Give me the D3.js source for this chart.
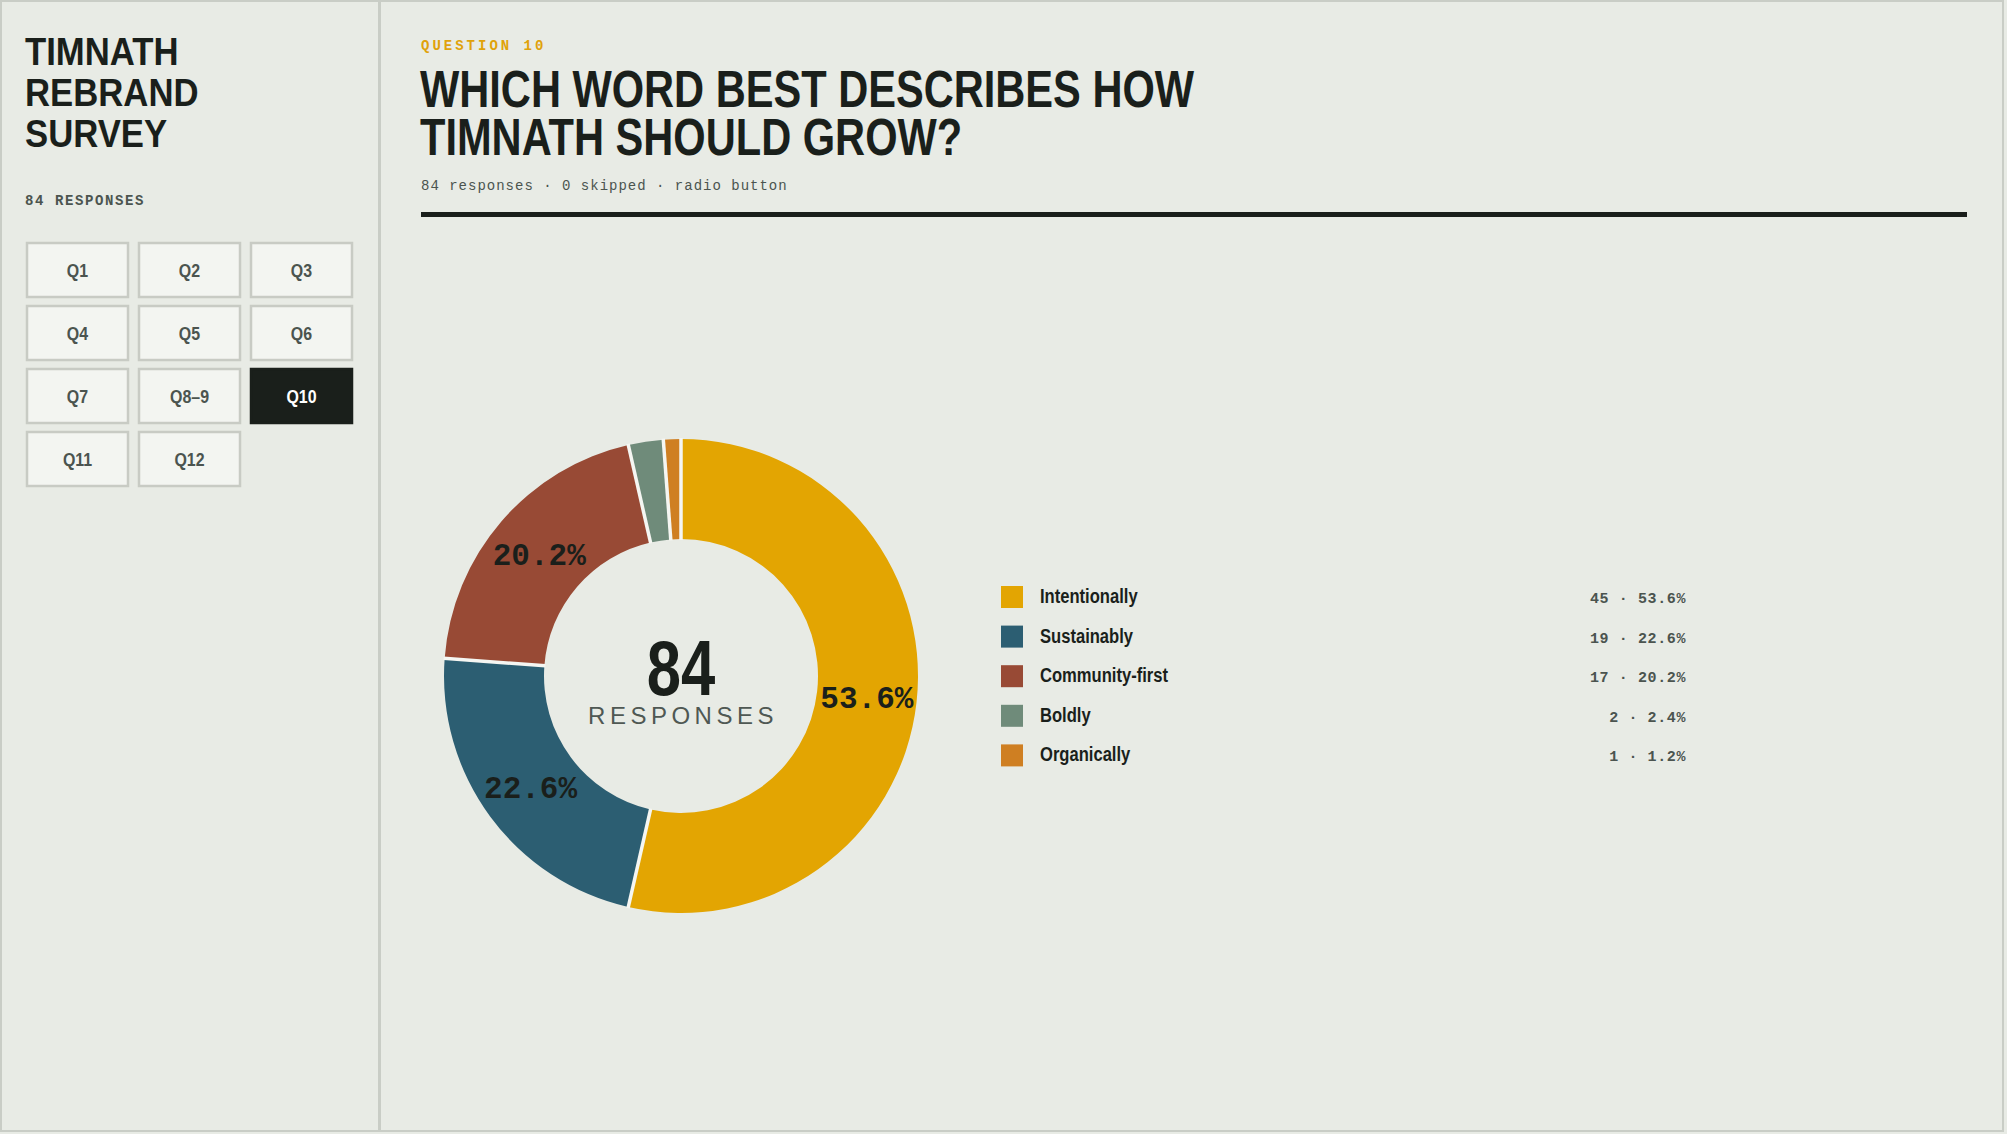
<!DOCTYPE html>
<html>
<head>
<meta charset="utf-8">
<script src="https://cdn.jsdelivr.net/npm/d3@7"></script>
<style>
  body { margin: 0; background: #e8ebe5; }
  svg { display: block; }
</style>
</head>
<body>
<svg id="chart" width="2007" height="1134"></svg>
<script>
var categories = ["Intentionally", "Sustainably", "Community-first", "Boldly", "Organically"];
var counts = [45, 19, 17, 2, 1];
var colors = ["#e3a502", "#2c5e72", "#984a35", "#6f8b7a", "#cf7f22"];
var questions = ["Q1", "Q2", "Q3", "Q4", "Q5", "Q6", "Q7", "Q8\u20139", "Q10", "Q11", "Q12"];
var activeQuestion = "Q10";
var total = 84;
var skipped = 0;

var ink = "#1a1f1b";
var muted = "#4b544f";
// no narrow face installed, so bold sans gets squeezed horizontally
var sans = "'Liberation Sans', Arial, sans-serif";
var mono = "'Liberation Mono', 'DejaVu Sans Mono', monospace";

var narrow = function (x, y, s) { return "translate(" + x + "," + y + ") scale(" + s + ",1)"; };

var svg = d3.select("#chart");

// page frame + sidebar rule
svg.append("rect")
    .attr("x", 1).attr("y", 1)
    .attr("width", 2002).attr("height", 1130)
    .attr("fill", "#e8ebe5")
    .attr("stroke", "#c9cdc6")
    .attr("stroke-width", 2);

svg.append("line")
    .attr("x1", 379.5).attr("x2", 379.5)
    .attr("y1", 1).attr("y2", 1131)
    .attr("stroke", "#c9cdc6")
    .attr("stroke-width", 3);

// sidebar
var side = svg.append("g");

side.append("text")
    .attr("transform", narrow(25, 65, 0.89))
    .attr("font-family", sans)
    .attr("font-weight", 700)
    .attr("font-size", 39)
    .attr("fill", ink)
    .selectAll("tspan")
    .data(["TIMNATH", "REBRAND", "SURVEY"])
    .enter().append("tspan")
    .attr("x", 0)
    .attr("y", function (d, i) { return i * 41; })
    .text(function (d) { return d; });

side.append("text")
    .attr("x", 25).attr("y", 205)
    .attr("font-family", mono)
    .attr("font-weight", 700)
    .attr("font-size", 14)
    .attr("letter-spacing", 1.6)
    .attr("fill", muted)
    .text(total + " RESPONSES");

var btn = side.selectAll(".qbtn")
    .data(questions)
    .enter().append("g")
    .attr("class", "qbtn")
    .attr("transform", function (d, i) {
        return "translate(" + (27 + (i % 3) * 112) + "," + (243 + Math.floor(i / 3) * 63) + ")";
    });

btn.append("rect")
    .attr("width", 101).attr("height", 54)
    .attr("fill", function (d) { return d === activeQuestion ? ink : "#f3f5f1"; })
    .attr("stroke", function (d) { return d === activeQuestion ? ink : "#c8cbc4"; })
    .attr("stroke-width", 2.5);

btn.append("text")
    .attr("transform", narrow(50.5, 34, 0.84))
    .attr("text-anchor", "middle")
    .attr("font-family", sans)
    .attr("font-weight", 700)
    .attr("font-size", 19)
    .attr("fill", function (d) { return d === activeQuestion ? "#ffffff" : muted; })
    .text(function (d) { return d; });

// header
svg.append("text")
    .attr("x", 421).attr("y", 50)
    .attr("font-family", mono)
    .attr("font-weight", 700)
    .attr("font-size", 14)
    .attr("letter-spacing", 3)
    .attr("fill", "#e0a20a")
    .text("QUESTION 10");

svg.append("text")
    .attr("transform", narrow(420, 107, 0.8))
    .attr("font-family", sans)
    .attr("font-weight", 700)
    .attr("font-size", 52)
    .attr("fill", ink)
    .selectAll("tspan")
    .data(["WHICH WORD BEST DESCRIBES HOW", "TIMNATH SHOULD GROW?"])
    .enter().append("tspan")
    .attr("x", 0)
    .attr("y", function (d, i) { return i * 48; })
    .text(function (d) { return d; });

svg.append("text")
    .attr("x", 421).attr("y", 190)
    .attr("font-family", mono)
    .attr("font-size", 14)
    .attr("letter-spacing", 1)
    .attr("fill", muted)
    .text(total + " responses \u00b7 " + skipped + " skipped \u00b7 radio button");

svg.append("rect")
    .attr("x", 421).attr("y", 212)
    .attr("width", 1546).attr("height", 5)
    .attr("fill", ink);

// donut
var cx = 681, cy = 676, outerR = 237, innerR = 137;

var pie = d3.pie().sort(null).value(function (d) { return d.count; });
var arcs = pie(categories.map(function (c, i) { return { name: c, count: counts[i], color: colors[i] }; }));

var arc = d3.arc().innerRadius(innerR).outerRadius(outerR);
var labelArc = d3.arc().innerRadius((innerR + outerR) / 2).outerRadius((innerR + outerR) / 2);
var pct = function (v) { return (v / total * 100).toFixed(1) + "%"; };

var donut = svg.append("g").attr("transform", "translate(" + cx + "," + cy + ")");

donut.selectAll(".slice")
    .data(arcs)
    .enter().append("path")
    .attr("class", "slice")
    .attr("d", arc)
    .attr("fill", function (d) { return d.data.color; });

// light separators between slices only (no outline on the rims)
donut.selectAll(".sep")
    .data(arcs)
    .enter().append("line")
    .attr("class", "sep")
    .attr("x1", function (d) { return (innerR - 1) * Math.sin(d.startAngle); })
    .attr("y1", function (d) { return -(innerR - 1) * Math.cos(d.startAngle); })
    .attr("x2", function (d) { return (outerR + 1) * Math.sin(d.startAngle); })
    .attr("y2", function (d) { return -(outerR + 1) * Math.cos(d.startAngle); })
    .attr("stroke", "#f5f6f2")
    .attr("stroke-width", 3.5);

donut.selectAll(".plabel")
    .data(arcs.filter(function (d) { return d.data.count / total > 0.05; }))
    .enter().append("text")
    .attr("class", "plabel")
    .attr("transform", function (d) { return "translate(" + labelArc.centroid(d) + ")"; })
    .attr("text-anchor", "middle")
    .attr("dy", "0.36em")
    .attr("font-family", mono)
    .attr("font-weight", 700)
    .attr("font-size", 31)
    .attr("fill", ink)
    .text(function (d) { return pct(d.data.count); });

donut.append("text")
    .attr("transform", narrow(0, 19, 0.79))
    .attr("text-anchor", "middle")
    .attr("font-family", sans)
    .attr("font-weight", 700)
    .attr("font-size", 78)
    .attr("fill", ink)
    .text(total);

donut.append("text")
    .attr("x", 2).attr("y", 48)
    .attr("text-anchor", "middle")
    .attr("font-family", sans)
    .attr("font-size", 24)
    .attr("letter-spacing", 4.5)
    .attr("fill", "#4f5853")
    .text("RESPONSES");

// legend
var y = d3.scaleBand().domain(categories).range([576, 774]).paddingInner(0);

var row = svg.selectAll(".legend")
    .data(arcs)
    .enter().append("g")
    .attr("class", "legend")
    .attr("transform", function (d) { return "translate(0," + y(d.data.name) + ")"; });

row.append("rect")
    .attr("x", 1001).attr("y", 10)
    .attr("width", 22).attr("height", 22)
    .attr("fill", function (d) { return d.data.color; });

row.append("text")
    .attr("transform", narrow(1040, 27, 0.79))
    .attr("font-family", sans)
    .attr("font-weight", 700)
    .attr("font-size", 21)
    .attr("fill", ink)
    .text(function (d) { return d.data.name; });

row.append("text")
    .attr("x", 1686).attr("y", 27)
    .attr("text-anchor", "end")
    .attr("font-family", mono)
    .attr("font-weight", 700)
    .attr("font-size", 15)
    .attr("letter-spacing", 0.6)
    .attr("fill", muted)
    .text(function (d) { return d.data.count + " \u00b7 " + pct(d.data.count); });
</script>
</body>
</html>
